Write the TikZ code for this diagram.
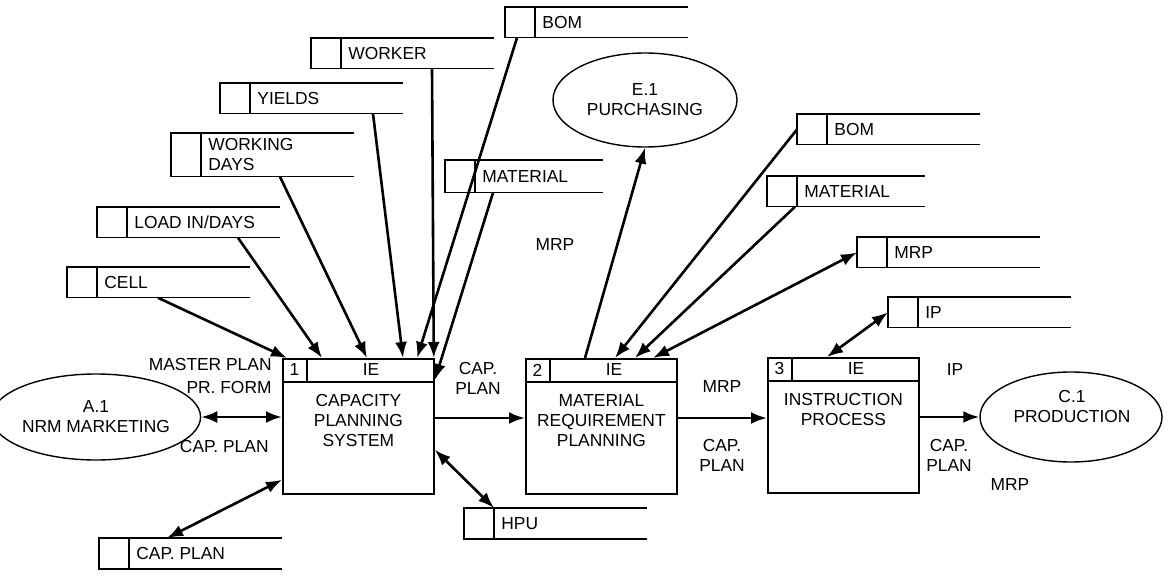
\documentclass[tikz,border=0pt]{standalone}
\usepackage{fontspec}
\setmainfont{Liberation Sans}
\usepackage{tikz}
\usetikzlibrary{positioning,shapes,arrows.meta,calc}

\tikzset{
  dstore/.style={rectangle, anchor=north west, inner sep=0pt, minimum width=91pt, minimum height=15pt},
  storeline/.style={line width=0.7pt},
  storelabel/.style={anchor=west, inner sep=0pt, align=left},
  procbox/.style={draw, line width=0.9pt, rectangle, anchor=north west, inner sep=0pt, minimum width=75.5pt, minimum height=67.5pt},
  hdrtext/.style={inner sep=0pt},
  proctext/.style={anchor=north, inner sep=0pt, align=center},
  entity/.style={draw, ellipse, line width=0.7pt, inner sep=0pt, align=center},
  flowlabel/.style={inner sep=0pt, align=center},
  flow/.style={->, line width=1.3pt},
  bothflow/.style={<->, line width=1.3pt}
}

% data store: open box with a small id cell
\newcommand{\datastore}[4][]{%
  \node[dstore,#1] (#2) at (#3) {};
  \draw[storeline] (#2.north east) -- (#2.north west) -- (#2.south west) -- (#2.south east)
    ($(#2.north west)+(30,0)$) -- ($(#2.south west)+(30,0)$);
  \node[storelabel] (#2-txt) at ($(#2.west)+(37,0)$) {#4};
}

% process box with number and IE header
\newcommand{\procnode}[4]{%
  \node[procbox] (#1) at (#2) {};
  \draw[line width=0.9pt] ($(#1.north west)+(0,24)$) -- ($(#1.north east)+(0,24)$)
    ($(#1.north west)+(25,0)$) -- ($(#1.north west)+(25,24)$);
  \node[hdrtext] (#1-no) at ($(#1.north west)+(12.5,12)$) {#3};
  \node[hdrtext] (#1-ie) at ($(#1.north west)+(89,12)$) {IE};
  \node[proctext] (#1-txt) at ($(#1.north)+(0,36)$) {#4};
}

\begin{document}
\begin{tikzpicture}[x=0.5pt, y=-0.5pt, font=\fontsize{8.7}{10}\selectfont, >={Latex[length=8pt,width=6pt]}]
\useasboundingbox (0,0) rectangle (1174,577);

% external entities
\node[entity, minimum width=94pt, minimum height=43pt] (mkt) at (96,417) {A.1\\NRM MARKETING};
\node[entity, minimum width=92pt, minimum height=47pt] (purch) at (645,100) {E.1\\PURCHASING};
\node[entity, minimum width=91pt, minimum height=45pt] (prod) at (1071,417) {};
\node[flowlabel] (prod-txt) at (1072,407) {C.1\\PRODUCTION};

% processes
\procnode{p1}{282,358}{1}{CAPACITY\\PLANNING\\SYSTEM}
\procnode{p2}{525,358}{2}{MATERIAL\\REQUIREMENT\\PLANNING}
\procnode{p3}{767,357}{3}{INSTRUCTION\\PROCESS}

% data stores
\datastore{bomA}{505,7}{BOM}
\datastore{worker}{311,38}{WORKER}
\datastore{yields}{220,83}{YIELDS}
\datastore[minimum height=21.5pt]{wdays}{171,133}{WORKING\\DAYS}
\datastore{loadin}{97,207}{LOAD IN/DAYS}
\datastore{cell}{67,267}{CELL}
\datastore[minimum width=78.5pt, minimum height=16pt]{matA}{445,160}{MATERIAL}
\datastore{bomB}{797,114}{BOM}
\datastore[minimum width=78.5pt]{matB}{767,176}{MATERIAL}
\datastore{mrpS}{857,237}{MRP}
\datastore{ipS}{888,297}{IP}
\datastore{hpu}{464,508}{HPU}
\datastore{capS}{99,538}{CAP. PLAN}

% flow labels
\node[flowlabel, anchor=east] (lmaster) at (272,365) {MASTER PLAN};
\node[flowlabel, anchor=east] (lform) at (272,388) {PR. FORM};
\node[flowlabel, anchor=east] (lcap0) at (269,447) {CAP. PLAN};
\node[flowlabel] (lcap1) at (478,378) {CAP.\\PLAN};
\node[flowlabel] (lmrp0) at (555,245) {MRP};
\node[flowlabel] (lmrp1) at (722,387) {MRP};
\node[flowlabel] (lcap2) at (722,455) {CAP.\\PLAN};
\node[flowlabel] (lip) at (955,370) {IP};
\node[flowlabel] (lcap3) at (949,455) {CAP.\\PLAN};
\node[flowlabel] (lmrp2) at (1010,485) {MRP};

% flows into capacity planning
\draw[flow] ($(cell.south west)+(91,0)$) -- ($(p1.north west)+(5,0)$);
\draw[flow] ($(loadin.south west)+(141,0)$) -- ($(p1.north west)+(40,0)$);
\draw[flow] ($(wdays.south west)+(109,0)$) -- ($(p1.north west)+(85,0)$);
\draw[flow] ($(yields.south west)+(153,0)$) -- ($(p1.north west)+(121,0)$);
\draw[flow] ($(bomA.south west)+(12,0)$) -- ($(p1.north west)+(135,0)$);
\draw[flow] ($(worker.south west)+(121,0)$) -- ($(p1.north east)+(-1,0)$);
\draw[flow] ($(matA.south west)+(48,0)$) -- ($(p1.north east)+(0,22)$);
\draw[bothflow] (mkt.east) -- (mkt.east -| p1.west);
\draw[bothflow] ($(p1.south west)+(0,-15)$) -- ($(capS.north west)+(68,0)$);
\draw[bothflow] ($(p1.south east)+(0,-45)$) -- ($(hpu.north west)+(30,0)$);
\draw[flow] ($(p1.north east)+(0,60)$) -- ($(p2.north west)+(0,60)$);

% material requirement planning
\draw[flow] ($(p2.north west)+(60,0)$) -- (purch.south);
\draw[flow] (bomB.west) -- ($(p2.north west)+(90,0)$);
\draw[flow] ($(matB.south west)+(28,0)$) -- ($(p2.north west)+(110,0)$);
\draw[bothflow] ($(p2.north west)+(128,0)$) -- (mrpS.west);
\draw[flow] ($(p2.north east)+(0,60)$) -- ($(p3.north west)+(0,61)$);

% instruction process
\draw[bothflow] ($(p3.north west)+(60,0)$) -- (ipS.west);
\draw[flow] (prod.west -| p3.east) -- (prod.west);
\end{tikzpicture}
\end{document}
